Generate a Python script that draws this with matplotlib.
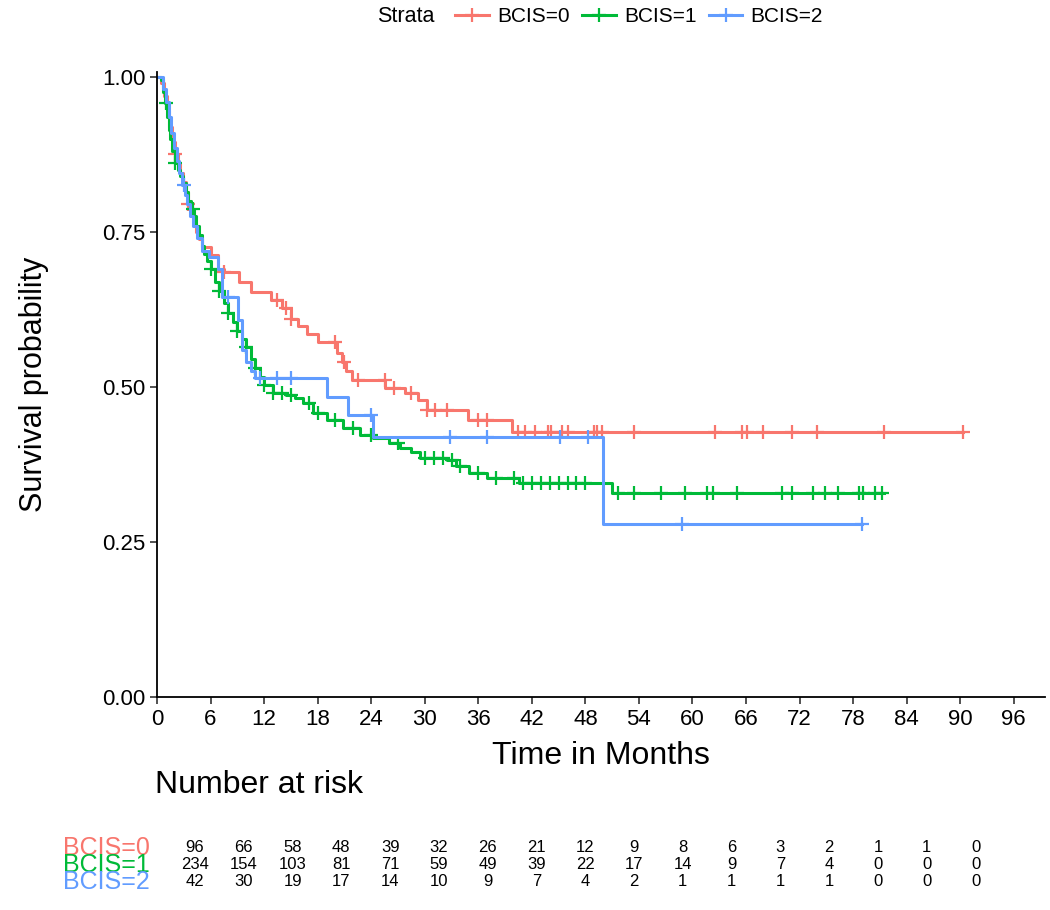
import numpy as np
import matplotlib.pyplot as plt
from matplotlib.lines import Line2D

plt.rcParams['font.family'] = ['Liberation Sans', 'DejaVu Sans']

# Kaplan-Meier step curves (months, survival)
red_t = [0, 0.5, 0.8, 1.1, 1.4, 1.7, 2, 2.3, 2.6, 2.9, 3.2, 3.5, 3.8, 4.1, 4.4, 4.7, 5, 6,
         6.8, 7.5, 9.2, 10.5, 12.8, 14, 15, 15.8, 16.8, 18, 20.2, 20.7, 21.2, 21.8, 25.6,
         27.8, 29.2, 30.2, 34.8, 39.8]
red_s = [1, 0.99, 0.97, 0.945, 0.92, 0.895, 0.875, 0.86, 0.845, 0.83, 0.815, 0.795, 0.78,
         0.765, 0.75, 0.738, 0.726, 0.713, 0.69, 0.685, 0.669, 0.653, 0.64, 0.627, 0.61,
         0.598, 0.585, 0.573, 0.555, 0.54, 0.525, 0.512, 0.498, 0.49, 0.479, 0.463, 0.447,
         0.427]
red_end = 90.3
red_c = [2, 3.5, 7.5, 13.5, 14.5, 15, 20, 21, 22.5, 25.5, 26.5, 28.5, 30.2, 31.1, 32.5, 36,
         37, 40.4, 41.2, 42.3, 43.8, 44.2, 45.4, 46, 49, 49.3, 49.9, 53.5, 62.5, 65.5, 66.1,
         67.9, 71.2, 74, 81.5, 90.3]

green_t = [0, 0.5, 0.7, 0.9, 1.1, 1.3, 1.5, 1.7, 2, 2.3, 2.6, 2.9, 3.2, 3.5, 3.8, 4.1, 4.4,
           4.7, 5, 5.3, 5.6, 6, 6.5, 7, 7.5, 8, 8.5, 9, 9.5, 10, 10.5, 11, 11.5, 12, 13,
           14.5, 15.5, 16.4, 17.5, 19, 20.8, 22.7, 24.2, 26, 27.2, 28.5, 29.5, 32.5, 33.5, 35,
           37, 40.6, 51]
green_s = [1, 0.995, 0.975, 0.958, 0.935, 0.915, 0.9, 0.88, 0.861, 0.85, 0.84, 0.829, 0.815,
           0.8, 0.787, 0.775, 0.76, 0.745, 0.728, 0.715, 0.703, 0.69, 0.67, 0.655, 0.635,
           0.62, 0.605, 0.59, 0.578, 0.565, 0.545, 0.53, 0.516, 0.503, 0.49, 0.487, 0.482,
           0.474, 0.458, 0.447, 0.434, 0.423, 0.418, 0.41, 0.402, 0.395, 0.385, 0.382, 0.372,
           0.361, 0.353, 0.345, 0.329]
green_end = 81.5
green_c = [1, 2, 4, 6, 7, 8, 9, 10, 11, 12, 13, 14, 15, 17, 18, 20, 22, 24, 27, 30, 31, 32,
           33, 34, 36, 38, 40, 41, 42, 43, 44, 45, 46, 47, 48, 51.6, 53.5, 56.5, 59.2, 61.6,
           62.3, 65, 70, 71.1, 73.5, 74.8, 76.3, 78.7, 79.1, 80.4, 81.2]

blue_t = [0, 0.7, 1, 1.3, 1.6, 1.9, 2.2, 2.5, 2.8, 3.1, 3.4, 3.7, 4, 4.5, 5, 5.8, 6.8, 7.3,
          9.1, 9.5, 10, 10.5, 11, 19, 21.4, 24.2, 50]
blue_s = [1, 0.98, 0.96, 0.935, 0.91, 0.885, 0.865, 0.845, 0.825, 0.81, 0.795, 0.775, 0.76,
          0.74, 0.72, 0.71, 0.69, 0.645, 0.608, 0.56, 0.54, 0.525, 0.515, 0.484, 0.455, 0.42,
          0.279]
blue_end = 79
blue_c = [3, 8, 11.5, 13.5, 15, 24, 32.8, 37, 45.1, 48.3, 58.8, 79]

labels = ['BCIS=0', 'BCIS=1', 'BCIS=2']
colors = ['#F8766D', '#00BA38', '#619CFF']

# Number at risk table
risk_times = list(range(0, 97, 6))
risk_0 = [96, 66, 58, 48, 39, 32, 26, 21, 12, 9, 8, 6, 3, 2, 1, 1, 0]
risk_1 = [234, 154, 103, 81, 71, 59, 49, 39, 22, 17, 14, 9, 7, 4, 0, 0, 0]
risk_2 = [42, 30, 19, 17, 14, 10, 9, 7, 4, 2, 1, 1, 1, 1, 0, 0, 0]

fig = plt.figure(figsize=(10.5, 9.1), dpi=100)
W, H = 1050, 910
ax = fig.add_axes([157 / W, 1 - 697 / H, (1045 - 157) / W, (697 - 72) / H])

curves = [(red_t, red_s, red_end, red_c), (green_t, green_s, green_end, green_c),
          (blue_t, blue_s, blue_end, blue_c)]
for (t, s, end, c), col in zip(curves, colors):
    tt = np.array(t + [end])
    ss = np.array(s + [s[-1]])
    ax.plot(tt, ss, drawstyle='steps-post', color=col, lw=2.2)
    c = np.array(c)
    idx = np.searchsorted(tt, c, side='right') - 1
    ax.plot(c, ss[idx], ls='none', marker='+', ms=10, mew=1.6, color=col)

ax.set_xlim(0, 99.5)
ax.set_ylim(0, 1.008)
ax.set_xticks(risk_times)
ax.set_yticks([0, 0.25, 0.5, 0.75, 1.0])
ax.set_yticklabels(['0.00', '0.25', '0.50', '0.75', '1.00'])
for side in ['top', 'right']:
    ax.spines[side].set_visible(False)
for side in ['left', 'bottom']:
    ax.spines[side].set_linewidth(1.3)
ax.tick_params(labelsize=16, length=5, width=1.2, color='#333333', labelcolor='black')
ax.set_xlabel('Time in Months', fontsize=23, labelpad=8)
ax.set_ylabel('Survival probability', fontsize=22, labelpad=38)

# legend on top
fig.text(377 / W, 1 - 17 / H, 'Strata', fontsize=15.5, va='center', ha='left')
handles = [Line2D([0], [0], color=col, lw=2.2, marker='+', ms=10, mew=1.6) for col in colors]
fig.legend(handles, labels, loc='center left', bbox_to_anchor=(445 / W, 1 - 17 / H),
           ncol=3, frameon=False, fontsize=15, handlelength=1.6, handletextpad=0.4,
           columnspacing=0.6, borderpad=0)

# risk table
fig.text(155 / W, 1 - 785 / H, 'Number at risk', fontsize=23, va='center', ha='left')
tab = fig.add_axes([195 / W, 1 - 892 / H, (1004 - 195) / W, 55 / H])
tab.set_xlim(0, 99.5)
tab.set_ylim(2.6, -0.6)
tab.axis('off')
for row, (vals, lab, col) in enumerate(zip([risk_0, risk_1, risk_2], labels, colors)):
    for x, v in zip(risk_times, vals):
        tab.text(x, row, str(v), ha='center', va='center', fontsize=12)
    fig.text(150 / W, 1 - (848 + 17 * row) / H, lab, color=col, fontsize=18,
             ha='right', va='center')

fig.savefig('out.png', dpi=100)
